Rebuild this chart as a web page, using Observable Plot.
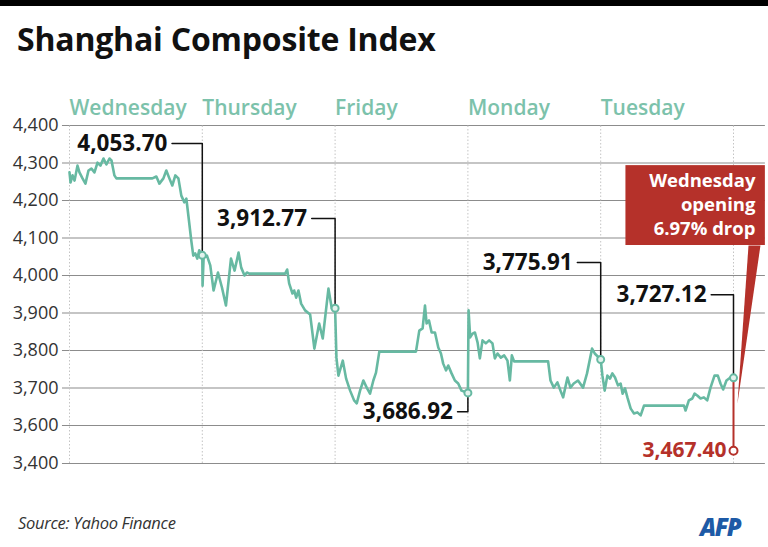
<!DOCTYPE html>
<html>
<head>
<meta charset="utf-8">
<script src="https://cdn.jsdelivr.net/npm/d3@7"></script>
<script src="https://cdn.jsdelivr.net/npm/@observablehq/plot@0.6"></script>
<style>
  html, body { margin: 0; padding: 0; background: #fff; }
  #wrap { position: relative; width: 768px; height: 547px; overflow: hidden; font-family: "Open Sans", "Noto Sans", sans-serif; }
  #bar { position: absolute; left: 0; top: 0; width: 768px; height: 6px; background: #000; }
  #title { position: absolute; left: 17px; top: 17px; font-size: 32px; line-height: 44px; font-weight: 700; color: #111; letter-spacing: -0.2px; }
  #chart { position: absolute; left: 0; top: 80px; }
  #source { position: absolute; left: 18px; top: 512px; font-size: 16.5px; line-height: 22px; font-style: italic; color: #333; letter-spacing: -0.3px; }
  #afp { position: absolute; left: 700px; top: 513px; font-size: 24px; line-height: 28px; font-weight: 800; font-style: italic; color: #1d5aa6; letter-spacing: -1.5px; padding-right: 4px; }
</style>
</head>
<body>
<div id="wrap">
  <div id="bar"></div>
  <div id="title">Shanghai Composite Index</div>
  <div id="chart"></div>
  <div id="source">Source: Yahoo Finance</div>
  <div id="afp">AFP</div>
</div>
<script>
// ---- Data (t = trading-day index, 0 = Wednesday open ... 5 = following Wednesday open)
const days = ["Wednesday", "Thursday", "Friday", "Monday", "Tuesday"];
const dayStarts = [0, 1, 2, 3, 4];
const dayBoundaries = [0, 1, 2, 3, 4, 5];
const yTicks = [3400, 3600, 3700, 3800, 3900, 4000, 4100, 4200, 4300, 4400];

const seriesT = [
  0, .008, .023, .038, .060, .075, .098, .120, .143, .165, .188, .211, .233, .256, .278, .301, .316, .331, .338, .353,
  .624, .654, .677, .707, .729, .752, .774, .797, .820, .842, .865, .880, .895, .917, .932, .947, .962, .977, 1,
  1.002, 1.010, 1.035, 1.060, 1.085, 1.118, 1.148, 1.178, 1.216, 1.243, 1.273, 1.293, 1.318, 1.336, 1.353,
  1.624, 1.639, 1.654, 1.679, 1.692, 1.707, 1.724, 1.744, 1.774, 1.812, 1.844, 1.880, 1.907, 1.950, 1.975, 2,
  2.010, 2.025, 2.058, 2.083, 2.113, 2.143, 2.163, 2.188, 2.213, 2.238, 2.263, 2.288, 2.308, 2.333,
  2.609, 2.634, 2.659, 2.677, 2.689, 2.707, 2.727, 2.752, 2.777, 2.797, 2.814, 2.835, 2.852, 2.877, 2.902, 2.927, 2.952, 3,
  3.005, 3.017, 3.035, 3.053, 3.073, 3.090, 3.110, 3.135, 3.160, 3.185, 3.203, 3.223, 3.248, 3.273, 3.298, 3.316, 3.331, 3.348,
  3.604, 3.622, 3.647, 3.674, 3.697, 3.717, 3.750, 3.772, 3.797, 3.829, 3.867, 3.897, 3.935, 3.955, 4,
  4.013, 4.030, 4.050, 4.070, 4.088, 4.108, 4.130, 4.150, 4.165, 4.183, 4.201, 4.226, 4.251, 4.276, 4.301, 4.326,
  4.627, 4.639, 4.664, 4.690, 4.707, 4.727, 4.752, 4.777, 4.802, 4.827, 4.857, 4.882, 4.902, 4.922, 4.947, 4.977, 5
];
const seriesV = [
  4275, 4248, 4267, 4253, 4293, 4275, 4259, 4245, 4280, 4285, 4275, 4301, 4293, 4312, 4296, 4312, 4307, 4280, 4267, 4259,
  4259, 4264, 4245, 4259, 4280, 4259, 4240, 4267, 4259, 4213, 4195, 4205, 4160, 4093, 4053, 4059, 4045, 4067, 4053.70,
  3973, 4048, 4053, 4027, 3960, 4008, 3968, 3920, 4045, 4013, 4061, 4021, 4000, 4008, 4005,
  4005, 4016, 3979, 3952, 3960, 3941, 3960, 3925, 3907, 3896, 3805, 3872, 3832, 3965, 3912, 3912.77,
  3781, 3733, 3773, 3725, 3693, 3667, 3659, 3693, 3720, 3701, 3685, 3720, 3741, 3797,
  3797, 3853, 3859, 3920, 3872, 3880, 3848, 3848, 3808, 3792, 3765, 3747, 3760, 3739, 3720, 3712, 3693, 3686.92,
  3907, 3835, 3845, 3848, 3821, 3779, 3827, 3819, 3827, 3819, 3779, 3792, 3781, 3787, 3773, 3720, 3787, 3771,
  3771, 3720, 3701, 3715, 3693, 3675, 3728, 3701, 3712, 3720, 3701, 3739, 3805, 3792, 3775.91,
  3733, 3693, 3733, 3725, 3739, 3728, 3707, 3712, 3685, 3699, 3675, 3645, 3632, 3635, 3627, 3653,
  3653, 3640, 3667, 3672, 3685, 3680, 3672, 3675, 3667, 3701, 3733, 3733, 3712, 3696, 3720, 3728, 3727.12
];

// Day-close annotations
const annT = [1, 2, 3, 4, 5];
const annValue = [4053.70, 3912.77, 3686.92, 3775.91, 3727.12];
const annLabels = ["4,053.70", "3,912.77", "3,686.92", "3,775.91", "3,727.12"];
const annLabelY = [4352, 4152, 3637, 4035, 3949];
const annLabelEnd = [0.737, 1.789, 2.887, 3.789, 4.797];

// Wednesday opening drop
const dropT = 5;
const dropFrom = 3727.12;
const dropTo = 3467.40;
const dropLabel = "3,467.40";
const calloutLines = ["Wednesday", "opening", "6.97% drop"];
const calloutLineY = [4253, 4189, 4123];

// ---- Build
const teal = "#67b9a2";
const tealText = "#7cc2ab";
const red = "#b5312a";

const series = seriesT.map((t, i) => ({t, v: seriesV[i]}));
const ann = annT.map((t, i) => ({t, v: annValue[i], label: annLabels[i], ly: annLabelY[i], lx: annLabelEnd[i]}));
const connectors = ann.flatMap((a, i) => [
  {id: i, t: a.lx + 0.035, v: a.ly},
  {id: i, t: a.t, v: a.ly},
  {id: i, t: a.t, v: a.v}
]);
const calloutBox = [{x1: 4.19, x2: 5.24, y1: 4080, y2: 4293}];
const wedge = [{t: 5.113, v: 4080}, {t: 5.203, v: 4080}, {t: 5.03, v: 3659}];
const callout = calloutLines.map((s, i) => ({s, v: calloutLineY[i]}));

const chart = Plot.plot({
  width: 768,
  height: 400,
  marginLeft: 69,
  marginRight: 35,
  marginTop: 45,
  marginBottom: 17,
  style: {fontFamily: "'Open Sans', 'Noto Sans', sans-serif", overflow: "visible", background: "transparent"},
  x: {domain: [0, 5], range: [69, 733]},
  y: {type: "linear", domain: [3400, 3600, 4400], range: [383, 345, 45]},
  marks: [
    Plot.ruleY(yTicks, {x1: -0.053, x2: 5.24, stroke: "#8c8c8c", strokeWidth: 1.2}),
    Plot.ruleX(dayBoundaries, {y1: 3400, y2: 4400, stroke: "#c4c4c4", strokeDasharray: "1.5,2", strokeWidth: 1}),
    Plot.axisY(yTicks, {tickSize: 0, tickPadding: 11, fontSize: 18, tickFormat: d3.format(","), label: null, color: "#333"}),
    Plot.axisX({ticks: [], label: null, tickSize: 0}),
    Plot.text(days, {x: (d, i) => dayStarts[i], text: d => d, frameAnchor: "top", dy: -25, textAnchor: "start", fill: tealText, fontSize: 21, fontWeight: 600}),
    Plot.line(wedge, {x: "t", y: "v", fill: red, stroke: "none"}),
    Plot.rect(calloutBox, {x1: "x1", x2: "x2", y1: "y1", y2: "y2", fill: red}),
    Plot.text(callout, {x: () => 5.165, y: "v", text: "s", textAnchor: "end", fontSize: 18.5, fontWeight: 700, fill: "white", lineHeight: 1}),
    Plot.line(series, {x: "t", y: "v", stroke: teal, strokeWidth: 2.6, strokeLinejoin: "round"}),
    Plot.line(connectors, {x: "t", y: "v", z: "id", stroke: "#111", strokeWidth: 1.5, strokeLinejoin: "round"}),
    Plot.text(ann, {x: "lx", y: "ly", text: "label", textAnchor: "end", fontSize: 22.5, fontWeight: 700, fill: "#111", letterSpacing: "-0.3px"}),
    Plot.ruleX([dropT], {y1: dropFrom, y2: dropTo, stroke: red, strokeWidth: 2}),
    Plot.dot(ann, {x: "t", y: "v", r: 3.5, fill: "#e4f3ee", stroke: teal, strokeWidth: 2}),
    Plot.dot([dropT], {x: d => d, y: () => dropTo, r: 4, fill: "white", stroke: red, strokeWidth: 2}),
    Plot.text([dropLabel], {x: () => dropT, y: () => dropTo, text: d => d, textAnchor: "end", dx: -7, fontSize: 21, fontWeight: 700, fill: red})
  ]
});
document.getElementById("chart").appendChild(chart);
</script>
</body>
</html>
